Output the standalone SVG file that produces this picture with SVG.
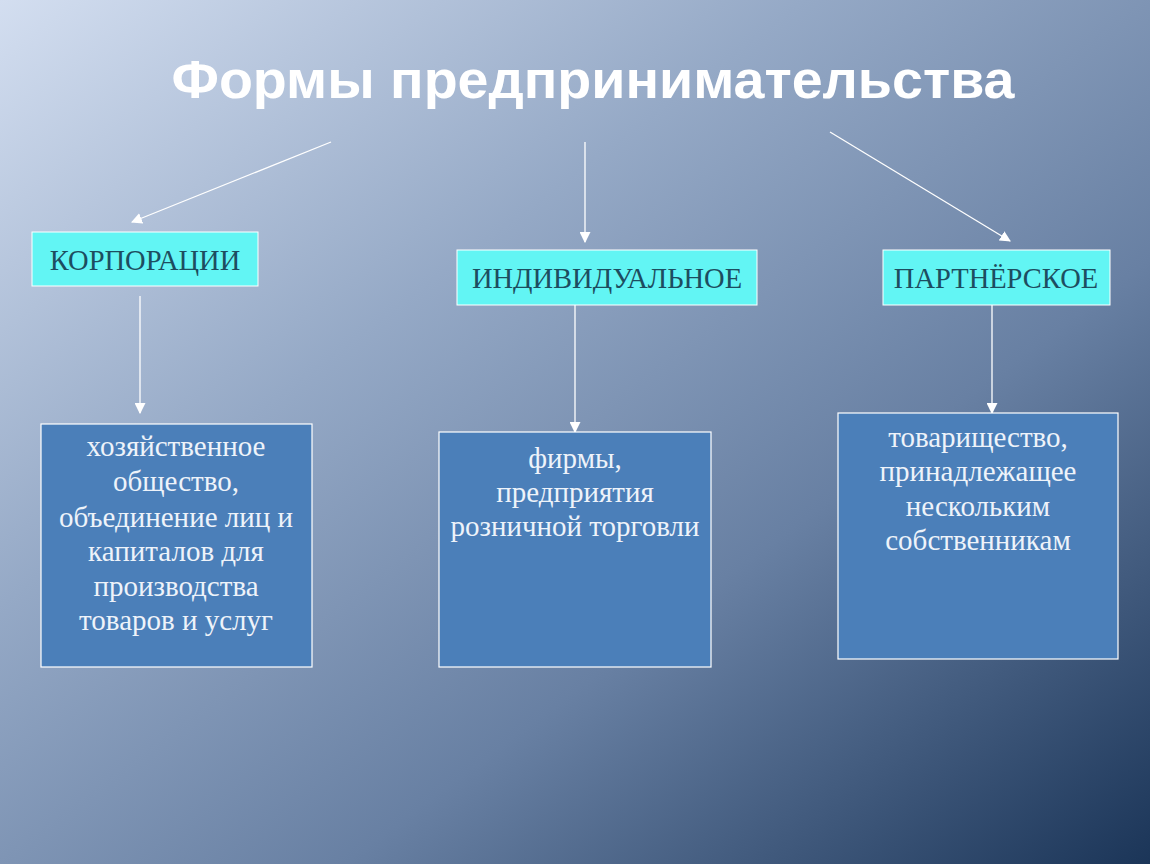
<svg xmlns="http://www.w3.org/2000/svg" width="1150" height="864" viewBox="0 0 1150 864">
<defs>
<linearGradient id="bg" x1="0" y1="0" x2="1" y2="1">
<stop offset="0" stop-color="#d3def0"/>
<stop offset="0.35" stop-color="#95a9c6"/>
<stop offset="0.65" stop-color="#6880a3"/>
<stop offset="1" stop-color="#1b3558"/>
</linearGradient>
<marker id="ah" viewBox="0 0 10 10" refX="9" refY="5" markerWidth="11" markerHeight="11" markerUnits="userSpaceOnUse" orient="auto">
<path d="M0,0 L10,5 L0,10 z" fill="#ffffff"/>
</marker>
<style>
.con{stroke:#ffffff;stroke-width:1.3;fill:none;marker-end:url(#ah)}
.cyan{fill:#62f5f4;stroke:#ffffff;stroke-width:1}
.cyt{font-family:"Liberation Serif",serif;font-size:28.5px;fill:#1d4d60;text-anchor:middle}
.blue{fill:#4b7fb9;stroke:#ffffff;stroke-width:1.2}
.bt{font-family:"Liberation Serif",serif;font-size:29px;fill:#eef3fa;text-anchor:middle}
.title{font-family:"Liberation Sans",sans-serif;font-weight:bold;font-size:53px;fill:#ffffff;text-anchor:middle}
</style>
</defs>
<rect width="1150" height="864" fill="url(#bg)"/>
<text class="title" x="593" y="98" textLength="843" lengthAdjust="spacingAndGlyphs">Формы предпринимательства</text>
<g id="connectors">
<line class="con" x1="331" y1="142" x2="132" y2="222"/>
<line class="con" x1="585" y1="142" x2="585" y2="242"/>
<line class="con" x1="830" y1="132" x2="1010" y2="241"/>
<line class="con" x1="140" y1="296" x2="140" y2="413"/>
<line class="con" x1="575" y1="305" x2="575" y2="432"/>
<line class="con" x1="992" y1="305" x2="992" y2="413"/>
</g>
<g id="corp">
<rect class="cyan" x="32" y="232" width="226" height="54"/>
<text class="cyt" x="145" y="270">КОРПОРАЦИИ</text>
</g>
<g id="indiv">
<rect class="cyan" x="457" y="250" width="300" height="55"/>
<text class="cyt" x="607" y="288">ИНДИВИДУАЛЬНОЕ</text>
</g>
<g id="partner">
<rect class="cyan" x="883" y="250" width="227" height="55"/>
<text class="cyt" x="996" y="288">ПАРТНЁРСКОЕ</text>
</g>
<g id="corp-desc">
<rect class="blue" x="41" y="424" width="271" height="243"/>
<text class="bt" x="176" y="456">хозяйственное</text>
<text class="bt" x="176" y="491">общество,</text>
<text class="bt" x="176" y="527">объединение лиц и</text>
<text class="bt" x="176" y="561">капиталов для</text>
<text class="bt" x="176" y="596">производства</text>
<text class="bt" x="176" y="630">товаров и услуг</text>
</g>
<g id="indiv-desc">
<rect class="blue" x="439" y="432" width="272" height="235"/>
<text class="bt" x="575" y="468">фирмы,</text>
<text class="bt" x="575" y="502">предприятия</text>
<text class="bt" x="575" y="536">розничной торговли</text>
</g>
<g id="partner-desc">
<rect class="blue" x="838" y="413" width="280" height="246"/>
<text class="bt" x="978" y="447">товарищество,</text>
<text class="bt" x="978" y="481">принадлежащее</text>
<text class="bt" x="978" y="516">нескольким</text>
<text class="bt" x="978" y="550">собственникам</text>
</g>
</svg>
